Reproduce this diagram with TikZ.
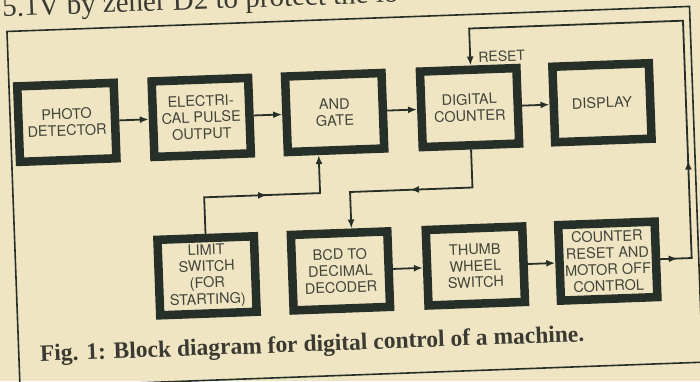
\documentclass[tikz,border=0pt]{standalone}
\usepackage{fontspec}
\setmainfont{Liberation Serif}
\newfontfamily\boxfont{TeX Gyre Heros}
\usetikzlibrary{arrows.meta,decorations.markings,calc}
\definecolor{paper}{HTML}{EFE5C3}
\definecolor{ink}{HTML}{263029}
\definecolor{txt}{HTML}{42443A}
\definecolor{prn}{HTML}{3A3A32}
\begin{document}
\begin{tikzpicture}[x=1pt,y=1pt,
  blk/.style={draw=ink,line width=8.5pt,fill=paper,minimum width=96.5pt,minimum height=75.5pt,
    inner sep=0pt,outer sep=4.25pt,align=center,text=txt,
    font=\boxfont\fontsize{14.5}{16.5}\selectfont},
  conn/.style={draw=ink,color=ink,line width=1.8pt,-{Latex[length=9pt,width=7pt]}},
]
\useasboundingbox (0,0) rectangle (700,-381);
\fill[paper] (0,0) rectangle (700,-381);
\begin{scope}[rotate around={2.1:(350,-190)},transform shape]
  % frame
  \draw[ink,line width=1.6pt] (13,-19) rectangle (696,-375);
  % top text (cut by page edge)
  \node[anchor=base west,inner sep=0pt,text=prn,font=\fontsize{29}{30}\selectfont] (toptext) at (9,-4) {5.1V by zener D2 to protect the lo};
  % blocks
  \node[blk] (photo) at (69.5,-112) {PHOTO\\DETECTOR};
  \node[blk] (elec)  at (204,-112) {ELECTRI-\\CAL PULSE\\OUTPUT};
  \node[blk] (and)   at (337.5,-112) {AND\\GATE};
  \node[blk] (dc)    at (472.5,-112) {DIGITAL\\COUNTER};
  \node[blk] (disp)  at (605,-112) {DISPLAY};
  \node[blk] (limit) at (204,-270.5) {LIMIT\\SWITCH\\(FOR\\STARTING)};
  \node[blk] (bcd)   at (337.5,-270.5) {BCD TO\\DECIMAL\\DECODER};
  \node[blk] (thumb) at (472.5,-270.5) {THUMB\\WHEEL\\SWITCH};
  \node[blk] (crm)   at (605,-270.5) {COUNTER\\RESET AND\\MOTOR OFF\\CONTROL};
  % reset label
  \node[anchor=west,inner sep=0pt,text=txt,font=\boxfont\fontsize{14}{14}\selectfont] (resetlbl) at (483,-62) {RESET};
  % junction coordinates
  \coordinate (lj) at (320,-192);
  \coordinate (rj) at (350,-192);
  \coordinate (fbr) at (689,-33);
  \coordinate (fbl) at (475,-33);
  % straight connectors
  \draw[conn] (photo) -- (elec);
  \draw[conn] (elec) -- (and);
  \draw[conn] (and) -- (dc);
  \draw[conn] (dc) -- (disp);
  \draw[conn] (bcd) -- (thumb);
  \draw[conn] (thumb) -- (crm);
  % limit switch -> AND gate
  \draw[conn,postaction={decorate},decoration={markings,
      mark=at position 99.5pt with {\arrow{Latex[length=9pt,width=7pt]}}}]
    (limit.north) |- (lj) -- (lj |- and.south);
  % digital counter -> BCD decoder
  \draw[conn,postaction={decorate},decoration={markings,
      mark=at position 100.5pt with {\arrow{Latex[length=9pt,width=7pt]}}}]
    (dc.south) |- (rj) -- (rj |- bcd.north);
  % counter reset feedback
  \draw[conn,postaction={decorate},decoration={markings,
      mark=at position 17.5pt with {\arrow{Latex[length=9pt,width=7pt]}},
      mark=at position 129pt with {\arrow{Latex[length=9pt,width=7pt]}}}]
    (crm.east) -- (fbr |- crm.east) -- (fbr) -- (fbl) -- (fbl |- dc.north);
  % caption
  \node[anchor=base west,inner sep=0pt,text=prn,font=\bfseries\fontsize{23.5}{26}\selectfont] (caption) at (34,-350) {Fig. 1: Block diagram for digital control of a machine.};
\end{scope}
\end{tikzpicture}
\end{document}
